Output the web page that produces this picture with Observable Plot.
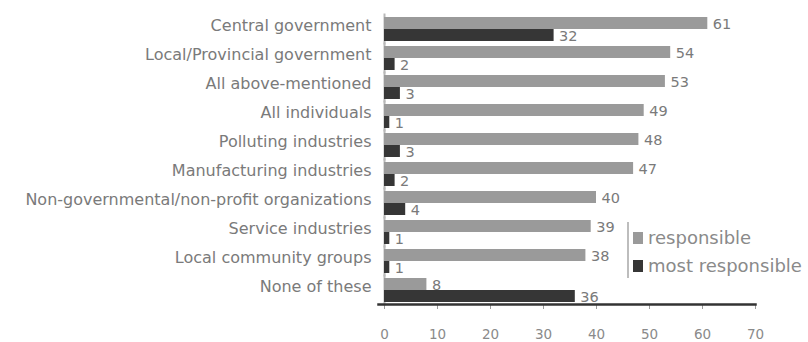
<!DOCTYPE html>
<html>
<head>
<meta charset="utf-8">
<script src="https://cdn.jsdelivr.net/npm/d3@7"></script>
<script src="https://cdn.jsdelivr.net/npm/@observablehq/plot@0.6"></script>
<style>
  html, body { margin: 0; padding: 0; background: #fff; }
  #wrap { position: relative; width: 808px; height: 342px; overflow: hidden; font-family: "DejaVu Sans", sans-serif; }
  #legend { position: absolute; left: 627px; top: 222px; height: 56px; border-left: 2px solid #bdbdbd; padding-left: 4px; white-space: nowrap; }
  #legend .item { display: flex; align-items: center; height: 25px; margin-top: 3px; font-size: 18px; color: #8a8a8a; }
  #legend .sw { width: 10px; height: 12px; margin-right: 5px; }
</style>
</head>
<body>
<div id="wrap"><div id="chart"></div><div id="legend"></div></div>
<script>
// Who should be responsible — share of respondents (%)
const categories = [
  "Central government",
  "Local/Provincial government",
  "All above-mentioned",
  "All individuals",
  "Polluting industries",
  "Manufacturing industries",
  "Non-governmental/non-profit organizations",
  "Service industries",
  "Local community groups",
  "None of these"
];
const seriesNames = ["responsible", "most responsible"];
const responsible = [61, 54, 53, 49, 48, 47, 40, 39, 38, 8];
const mostResponsible = [32, 2, 3, 1, 3, 2, 4, 1, 1, 36];
const xTicks = [0, 10, 20, 30, 40, 50, 60, 70];
const colors = ["#9a9a9a", "#363636"];

const rows = categories.flatMap((c, i) => [
  {category: c, series: seriesNames[0], value: responsible[i]},
  {category: c, series: seriesNames[1], value: mostResponsible[i]}
]);

const chart = Plot.plot({
  width: 808,
  height: 342,
  marginLeft: 384,
  marginRight: 53,
  marginTop: 12,
  marginBottom: 36,
  style: {fontFamily: "DejaVu Sans, sans-serif", background: "#fff"},
  x: {domain: [0, 70], ticks: xTicks},
  fy: {domain: categories, padding: 0, label: null},
  y: {domain: seriesNames, paddingInner: 0, paddingOuter: 0.16, axis: null},
  color: {domain: seriesNames, range: colors},
  marks: [
    Plot.frame({anchor: "left", stroke: "#b8b8b8", strokeWidth: 2}),
    Plot.barX(rows, {fy: "category", y: "series", x: "value", fill: "series"}),
    Plot.text(rows, {
      fy: "category", y: "series", x: "value",
      text: d => String(d.value),
      textAnchor: "start", dx: 5, dy: 1,
      fill: "#7a7a7a", fontSize: 14.5
    }),
    Plot.axisFy({anchor: "left", label: null, tickSize: 0, tickPadding: 13, dy: -3, fontSize: 16, fill: "#7a7a7a"}),
    Plot.axisX({anchor: "bottom", label: null, ticks: xTicks, tickSize: 5, tickPadding: 20, stroke: "#9a9a9a", fill: "#8a8a8a", fontSize: 13.5}),
    Plot.frame({anchor: "bottom", facetAnchor: "bottom", stroke: "#333", strokeWidth: 2.5, insetLeft: -6})
  ]
});
document.getElementById("chart").appendChild(chart);

// Legend, drawn from the same series names and colours
const legend = d3.select("#legend");
seriesNames.forEach((name, i) => {
  const item = legend.append("div").attr("class", "item");
  item.append("div").attr("class", "sw").style("background", colors[i]);
  item.append("span").text(name);
});
</script>
</body>
</html>
